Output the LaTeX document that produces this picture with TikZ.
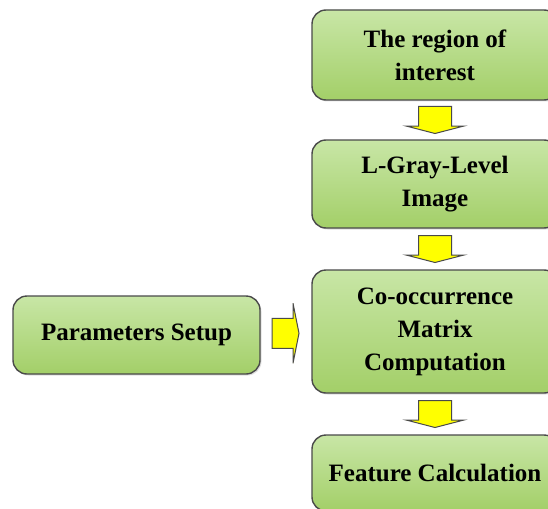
\documentclass[tikz,border=0pt]{standalone}
\usepackage{fontspec}
\setmainfont{Liberation Serif}
\usetikzlibrary{calc,shadows}
\definecolor{gtop}{HTML}{C8E6A6}
\definecolor{gbot}{HTML}{A3CF68}
\definecolor{bord}{HTML}{4A4A4A}
\definecolor{yel}{HTML}{FFFF00}
\tikzset{
  box/.style={draw=bord, line width=1.4pt, rounded corners=14pt,
    top color=gtop, bottom color=gbot, align=center, inner sep=0pt,
    font=\bfseries\fontsize{25}{33}\selectfont, text=black,
    drop shadow={shadow xshift=1.5pt, shadow yshift=-1.5pt, opacity=0.25}},
  yarrow/.style={draw=bord, fill=yel, line width=1pt, line join=miter}
}
\begin{document}
\begin{tikzpicture}[x=1pt,y=-1pt]
\useasboundingbox (0,0) rectangle (548,508);
\node[box, minimum width=246pt, minimum height=90pt] (roi) at (435,55) {The region of\\interest};
\node[box, minimum width=246pt, minimum height=88pt] (gray) at (435,184) {L-Gray-Level\\Image};
\node[box, minimum width=246pt, minimum height=123pt] (com) at (435,331.5) {Co-occurrence\\Matrix\\Computation};
\node[box, minimum width=246pt, minimum height=76pt] (feat) at (435,473) {Feature Calculation};
\node[box, minimum width=247pt, minimum height=78pt] (par) at (136.5,335) {Parameters Setup};
% down arrows
\foreach \a/\b in {roi/gray, gray/com, com/feat}{
  \draw[yarrow, shift={($(\a.south)!0.5!(\b.north)$)}]
    (-16.5,-13.5) -- (16.5,-13.5) -- (16.5,6) -- (29,6) -- (0,13.5)
    -- (-29,6) -- (-16.5,6) -- cycle;
}
% right arrow
\draw[yarrow, shift={($(par.east)!0.5!(com.west)$)}]
  (-14,-15) -- (7,-15) -- (7,-30) -- (13,0) -- (7,30) -- (7,15) -- (-14,15) -- cycle;
\end{tikzpicture}
\end{document}
